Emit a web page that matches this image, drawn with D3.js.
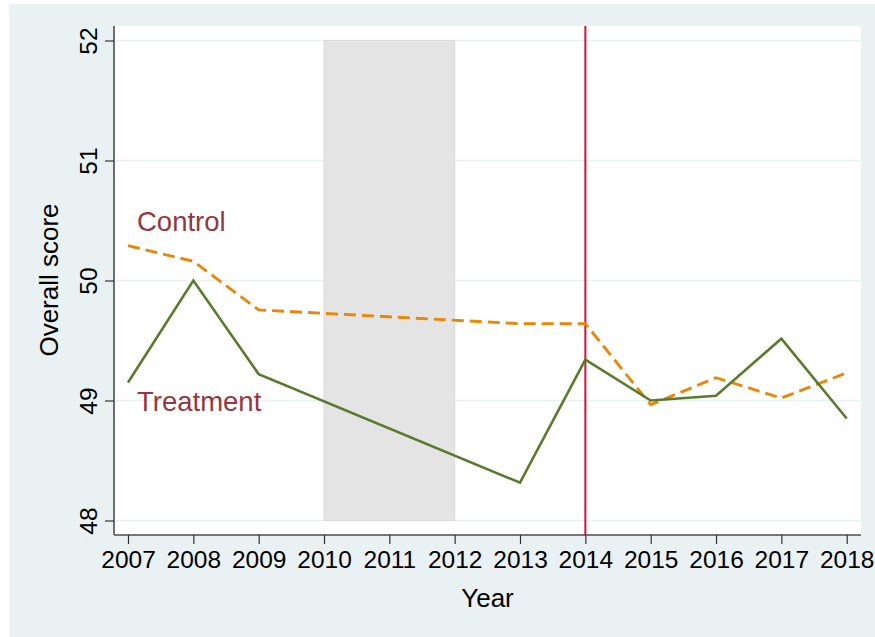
<!DOCTYPE html>
<html>
<head>
<meta charset="utf-8">
<script src="https://cdn.jsdelivr.net/npm/d3@7"></script>
<style>
  body { margin: 0; background: #fff; }
  text { font-family: "Liberation Sans", Arial, Helvetica, sans-serif; }
</style>
</head>
<body>
<svg id="chart" width="875" height="637"></svg>
<script>
// data (2010-2012 missing)
var years = [2007, 2008, 2009, 2013, 2014, 2015, 2016, 2017, 2018];
var treatment = [49.15, 50.0, 49.22, 48.315, 49.34, 49.0, 49.04, 49.515, 48.85];
var control = [50.29, 50.16, 49.755, 49.64, 49.64, 48.965, 49.19, 49.02, 49.23];
var xTicks = d3.range(2007, 2019);
var yTicks = [48, 49, 50, 51, 52];
var shadedYears = [2010, 2012];
var eventYear = 2014;

var svg = d3.select('#chart');

// outer background
svg.append('rect')
   .attr('x', 9).attr('y', 4)
   .attr('width', 866).attr('height', 633)
   .attr('fill', '#eaf1f3');

var plotLeft = 114, plotRight = 861, plotTop = 26, plotBottom = 535;

svg.append('rect')
   .attr('x', plotLeft).attr('y', plotTop)
   .attr('width', plotRight - plotLeft).attr('height', plotBottom - plotTop)
   .attr('fill', '#fff');

var x = d3.scaleLinear().domain([2007, 2018]).range([128, 846.7]);
var y = d3.scaleLinear().domain([48, 52]).range([520.5, 40.5]);

// gridlines
svg.append('g').selectAll('line')
   .data(yTicks)
   .enter()
   .append('line')
   .attr('x1', plotLeft).attr('x2', plotRight)
   .attr('y1', function(d) { return y(d); })
   .attr('y2', function(d) { return y(d); })
   .attr('stroke', '#eaf1f3')
   .attr('stroke-width', 1.5);

// shaded band
svg.append('rect')
   .attr('x', x(shadedYears[0]))
   .attr('y', y(52))
   .attr('width', x(shadedYears[1]) - x(shadedYears[0]))
   .attr('height', y(48) - y(52))
   .attr('fill', '#e4e4e4')
   .attr('stroke', '#dadada')
   .attr('stroke-width', 1);

// event line
svg.append('line')
   .attr('x1', x(eventYear)).attr('x2', x(eventYear))
   .attr('y1', plotTop).attr('y2', plotBottom)
   .attr('stroke', '#c8163c')
   .attr('stroke-width', 2);

var line = d3.line()
   .x(function(d) { return x(d[0]); })
   .y(function(d) { return y(d[1]); });

svg.append('path')
   .datum(d3.zip(years, control))
   .attr('d', line)
   .attr('fill', 'none')
   .attr('stroke', '#e8870a')
   .attr('stroke-width', 2.9)
   .attr('stroke-dasharray', '12,6');

svg.append('path')
   .datum(d3.zip(years, treatment))
   .attr('d', line)
   .attr('fill', 'none')
   .attr('stroke', '#5a7a2e')
   .attr('stroke-width', 2.6)
   .attr('stroke-linejoin', 'miter');

// axes
var xAxis = d3.axisBottom(x).tickValues(xTicks).tickFormat(d3.format('d')).tickSize(9).tickPadding(7);
var gx = svg.append('g')
   .attr('transform', 'translate(0,' + plotBottom + ')')
   .call(xAxis);
gx.select('.domain').attr('d', 'M' + plotLeft + ',0H' + plotRight).attr('stroke', '#4d4d4d').attr('stroke-width', 1.6);
gx.selectAll('.tick line').attr('stroke', '#333').attr('stroke-width', 1.2);
gx.selectAll('.tick text')
   .attr('fill', '#000')
   .style('font-size', '24.5px')
   .attr('font-family', '"Liberation Sans", Arial, sans-serif');

var yAxis = d3.axisLeft(y).tickValues(yTicks).tickFormat(d3.format('d')).tickSize(9).tickPadding(0);
var gy = svg.append('g')
   .attr('transform', 'translate(' + plotLeft + ',0)')
   .call(yAxis);
gy.select('.domain').attr('d', 'M0,' + plotTop + 'V' + plotBottom).attr('stroke', '#4d4d4d').attr('stroke-width', 1.6);
gy.selectAll('.tick line').attr('stroke', '#333').attr('stroke-width', 1.2);
gy.selectAll('.tick text')
   .attr('fill', '#000')
   .attr('x', null).attr('dy', null)
   .attr('text-anchor', 'middle')
   .attr('transform', 'translate(-17,0) rotate(-90)')
   .style('font-size', '24.5px')
   .attr('font-family', '"Liberation Sans", Arial, sans-serif');

// axis titles
svg.append('text')
   .attr('x', (plotLeft + plotRight) / 2)
   .attr('y', 607)
   .attr('text-anchor', 'middle')
   .style('font-size', '26px')
   .text('Year');

svg.append('text')
   .attr('transform', 'translate(58,280) rotate(-90)')
   .attr('text-anchor', 'middle')
   .style('font-size', '26px')
   .text('Overall score');

// series labels
svg.append('text')
   .attr('x', 137).attr('y', 231)
   .attr('fill', '#953640')
   .style('font-size', '27.5px')
   .text('Control');

svg.append('text')
   .attr('x', 137).attr('y', 411)
   .attr('fill', '#953640')
   .style('font-size', '27.5px')
   .text('Treatment');
</script>
</body>
</html>
